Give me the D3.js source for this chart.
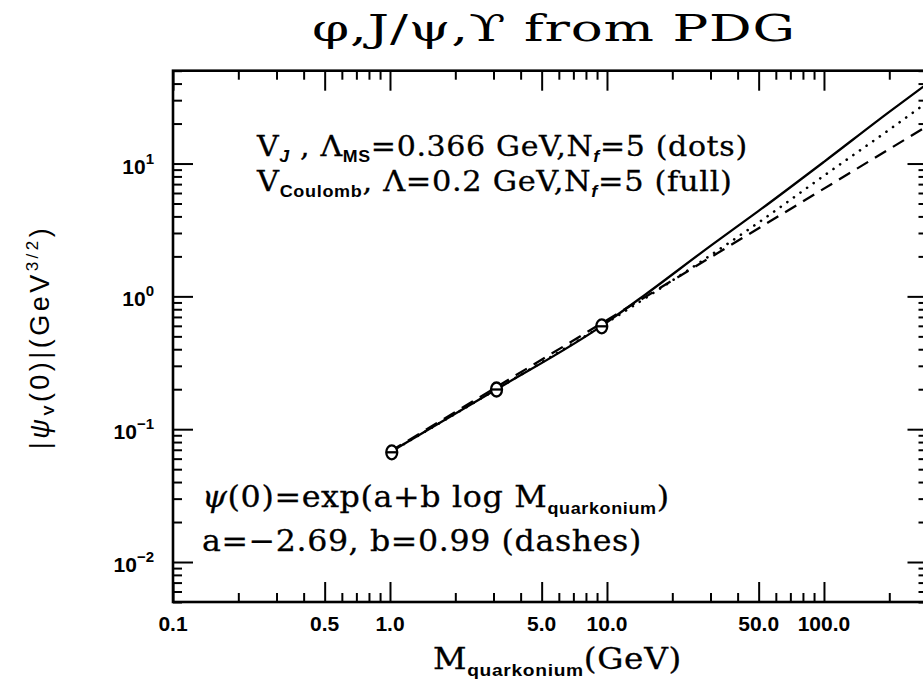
<!DOCTYPE html>
<html>
<head>
<meta charset="utf-8">
<script src="https://cdn.jsdelivr.net/npm/d3@7"></script>
<style>
  body { margin: 0; background: #fff; }
  svg { display: block; }
</style>
</head>
<body>
<svg id="chart" width="923" height="684"></svg>
<script>
// Measured vector mesons: phi, J/psi, Upsilon
const mesonMass = [1.019, 3.097, 9.46];
const mesonPsi0 = [0.067, 0.199, 0.595];

// Coulomb potential, Lambda = 0.2 GeV (full line)
const coulombMass = [1.0, 3.1, 9.46, 15, 30, 50, 100, 200, 300];
const coulombPsi0 = [0.067, 0.2, 0.6, 1.03, 2.4, 4.4, 10.3, 24.5, 40];

// V_J potential, Lambda_MS = 0.366 GeV (dots)
const vjMass = [1.0, 3.1, 9.46, 24, 50, 100, 200, 300];
const vjPsi0 = [0.067, 0.2, 0.6, 1.6, 3.6, 8.1, 18, 29];

// Power-law fit exp(a + b log M), a = -2.69, b = 0.99 (dashes)
const fitMass = [1.0, 300];
const fitPsi0 = [0.0679, 19.2];

// Axis ticks
const xMajorTicks = [0.1, 0.5, 1, 5, 10, 50, 100];
const xTickLabels = ["0.1", "0.5", "1.0", "5.0", "10.0", "50.0", "100.0"];
const yMajorTicks = [0.01, 0.1, 1, 10];
const yTickExponents = ["\u22122", "\u22121", "0", "1"];

const W = 923, H = 684;
const plot = { left: 173, right: 927.5, top: 70.7, bottom: 602 };
const serif = "'DejaVu Serif', 'Liberation Serif', serif";
const sans = "'Liberation Sans', Arial, sans-serif";

const svg = d3.select("#chart");
svg.append("rect").attr("width", W).attr("height", H).attr("fill", "#fff");

const x = d3.scaleLog().domain([0.1, 300]).range([plot.left, plot.right]);
const y = d3.scaleLog().domain([0.005, 50]).range([plot.bottom, plot.top]);

svg.append("defs").append("clipPath").attr("id", "plotClip")
  .append("rect")
  .attr("x", plot.left).attr("y", plot.top)
  .attr("width", plot.right - plot.left).attr("height", plot.bottom - plot.top);

// ---- ticks on all four sides, pointing inward ----
const majorLen = 20, minorLen = 9;
const isMajor = (list) => (v) => list.some(m => Math.abs(Math.log10(v) - Math.log10(m)) < 1e-6);
const xMinor = x.ticks().filter(v => !isMajor(xMajorTicks)(v));
const yMinor = y.ticks().filter(v => !isMajor(yMajorTicks)(v));

function tickGroup(gen, transform, values, len) {
  const g = svg.append("g").attr("transform", transform)
    .call(gen.tickValues(values).tickSize(-len).tickSizeOuter(0).tickFormat(""));
  g.select(".domain").remove();
  g.selectAll(".tick line").attr("stroke", "#000").attr("stroke-width", 2);
  return g;
}
tickGroup(d3.axisBottom(x), `translate(0,${plot.bottom})`, xMajorTicks, majorLen);
tickGroup(d3.axisBottom(x), `translate(0,${plot.bottom})`, xMinor, minorLen);
tickGroup(d3.axisTop(x), `translate(0,${plot.top})`, xMajorTicks, majorLen);
tickGroup(d3.axisTop(x), `translate(0,${plot.top})`, xMinor, minorLen);
tickGroup(d3.axisLeft(y), `translate(${plot.left},0)`, yMajorTicks, majorLen);
tickGroup(d3.axisLeft(y), `translate(${plot.left},0)`, yMinor, minorLen);
tickGroup(d3.axisRight(y), `translate(${plot.right},0)`, yMajorTicks, majorLen);
tickGroup(d3.axisRight(y), `translate(${plot.right},0)`, yMinor, minorLen);

// frame
svg.append("rect")
  .attr("x", plot.left).attr("y", plot.top)
  .attr("width", plot.right - plot.left).attr("height", plot.bottom - plot.top)
  .attr("fill", "none").attr("stroke", "#000").attr("stroke-width", 2.6);

// ---- tick labels ----
svg.append("g").selectAll("text").data(xMajorTicks).join("text")
  .attr("x", d => x(d)).attr("y", 631)
  .attr("text-anchor", "middle")
  .attr("font-family", sans).attr("font-weight", "bold").attr("font-size", 21)
  .text((d, i) => xTickLabels[i]);

const yLab = svg.append("g").selectAll("text").data(yMajorTicks).join("text")
  .attr("x", 154).attr("y", d => y(d) + 10)
  .attr("text-anchor", "end")
  .attr("font-family", sans).attr("font-weight", "bold").attr("font-size", 21);
yLab.append("tspan").text("10");
yLab.append("tspan").attr("dy", -10).attr("font-size", 15).text((d, i) => yTickExponents[i]);

// ---- curves ----
const line = d3.line().x(d => x(d[0])).y(d => y(d[1])).curve(d3.curveMonotoneX);
const curves = svg.append("g").attr("clip-path", "url(#plotClip)")
  .attr("fill", "none").attr("stroke", "#000");

curves.append("path")
  .attr("d", line(coulombMass.map((m, i) => [m, coulombPsi0[i]])))
  .attr("stroke-width", 2.3);
curves.append("path")
  .attr("d", line(vjMass.map((m, i) => [m, vjPsi0[i]])))
  .attr("stroke-width", 2.6).attr("stroke-linecap", "round")
  .attr("stroke-dasharray", "0.1,8");
curves.append("path")
  .attr("d", line(fitMass.map((m, i) => [m, fitPsi0[i]])))
  .attr("stroke-width", 2.3).attr("stroke-dasharray", "13,8");

// ---- data markers ----
const marks = svg.append("g").selectAll("g").data(mesonMass).join("g")
  .attr("transform", (d, i) => `translate(${x(d)},${y(mesonPsi0[i])})`)
  .attr("stroke", "#000").attr("stroke-width", 2.3).attr("fill", "none");
marks.append("ellipse").attr("rx", 5.5).attr("ry", 7).attr("fill", "#fff");
marks.append("line").attr("x1", -5.5).attr("x2", 5.5);

// ---- rich text helpers ----
function richText(parent, px, py, size, font, parts, attrs = {}) {
  const t = parent.append("text").attr("x", px).attr("y", py)
    .attr("font-family", font).attr("font-size", size);
  Object.entries(attrs).forEach(([k, v]) => t.attr(k, v));
  let shift = 0;
  parts.forEach(p => {
    const s = typeof p === "string" ? { t: p } : p;
    const ts = t.append("tspan").text(s.t);
    const off = s.dy || 0;
    if (off !== shift) ts.attr("dy", off - shift);
    shift = off;
    if (s.font) ts.attr("font-family", s.font);
    if (s.size) ts.attr("font-size", s.size);
    if (s.weight) ts.attr("font-weight", s.weight);
    if (s.style) ts.attr("font-style", s.style);
    if (s.stroke === 0) ts.attr("stroke", "none");
  });
  return t;
}
// stretch a left-anchored line horizontally so it spans the wanted width
function stretchTo(t, x0, target) {
  t.attr("letter-spacing", 0.6);
  const w = t.node().getComputedTextLength();
  const s = target / w;
  t.attr("transform", `translate(${x0},0) scale(${s.toFixed(4)},1) translate(${-x0},0)`);
}
const subB = (s, extra = {}) => Object.assign({ t: s, dy: 6, font: sans, weight: "bold", size: 16, stroke: 0 }, extra);
const ink = { stroke: "#000", "stroke-width": 0.3 };

// title
stretchTo(richText(svg, 312, 41, 38, serif, ["\u03C6,J/\u03C8,\u03D2 from PDG"]), 312, 484);

// potential labels
stretchTo(richText(svg, 257, 156, 27, serif, [
  "V", subB("J", { style: "italic" }), " , \u039B", subB("MS"),
  "=0.366 GeV,N", subB("f", { style: "italic" }), "=5 (dots)"
], ink), 257, 491);
stretchTo(richText(svg, 257, 191, 27, serif, [
  "V", subB("Coulomb"), ", \u039B=0.2 GeV,N", subB("f", { style: "italic" }), "=5 (full)"
], ink), 257, 476);

// fit formula
stretchTo(richText(svg, 202, 507, 30, serif, [
  { t: "\u03C8", style: "italic" }, "(0)=exp(a+b log M",
  subB("quarkonium", { dy: 7, size: 17 }), ")"
], ink), 202, 468);
stretchTo(richText(svg, 202, 551, 30, serif, ["a=\u22122.69, b=0.99 (dashes)"], ink), 202, 440);

// axis titles
stretchTo(richText(svg, 433, 669, 29, serif, [
  "M", subB("quarkonium", { dy: 7, size: 17 }), "(GeV)"
], ink), 433, 249);

const yTitle = richText(svg, 0, 0, 27, sans, [
  "|", { t: "\u03C8", style: "italic" }, subB("V", { dy: 5, size: 15 }),
  "(0)|(GeV", { t: "3/2", dy: -11, size: 17 }, ")"
], { "text-anchor": "middle", transform: "translate(49,337) rotate(-90)" });
{
  const n = yTitle.text().length;
  const w = yTitle.node().getComputedTextLength();
  yTitle.attr("letter-spacing", ((221 - w) / (n - 1)).toFixed(2));
}
</script>
</body>
</html>
